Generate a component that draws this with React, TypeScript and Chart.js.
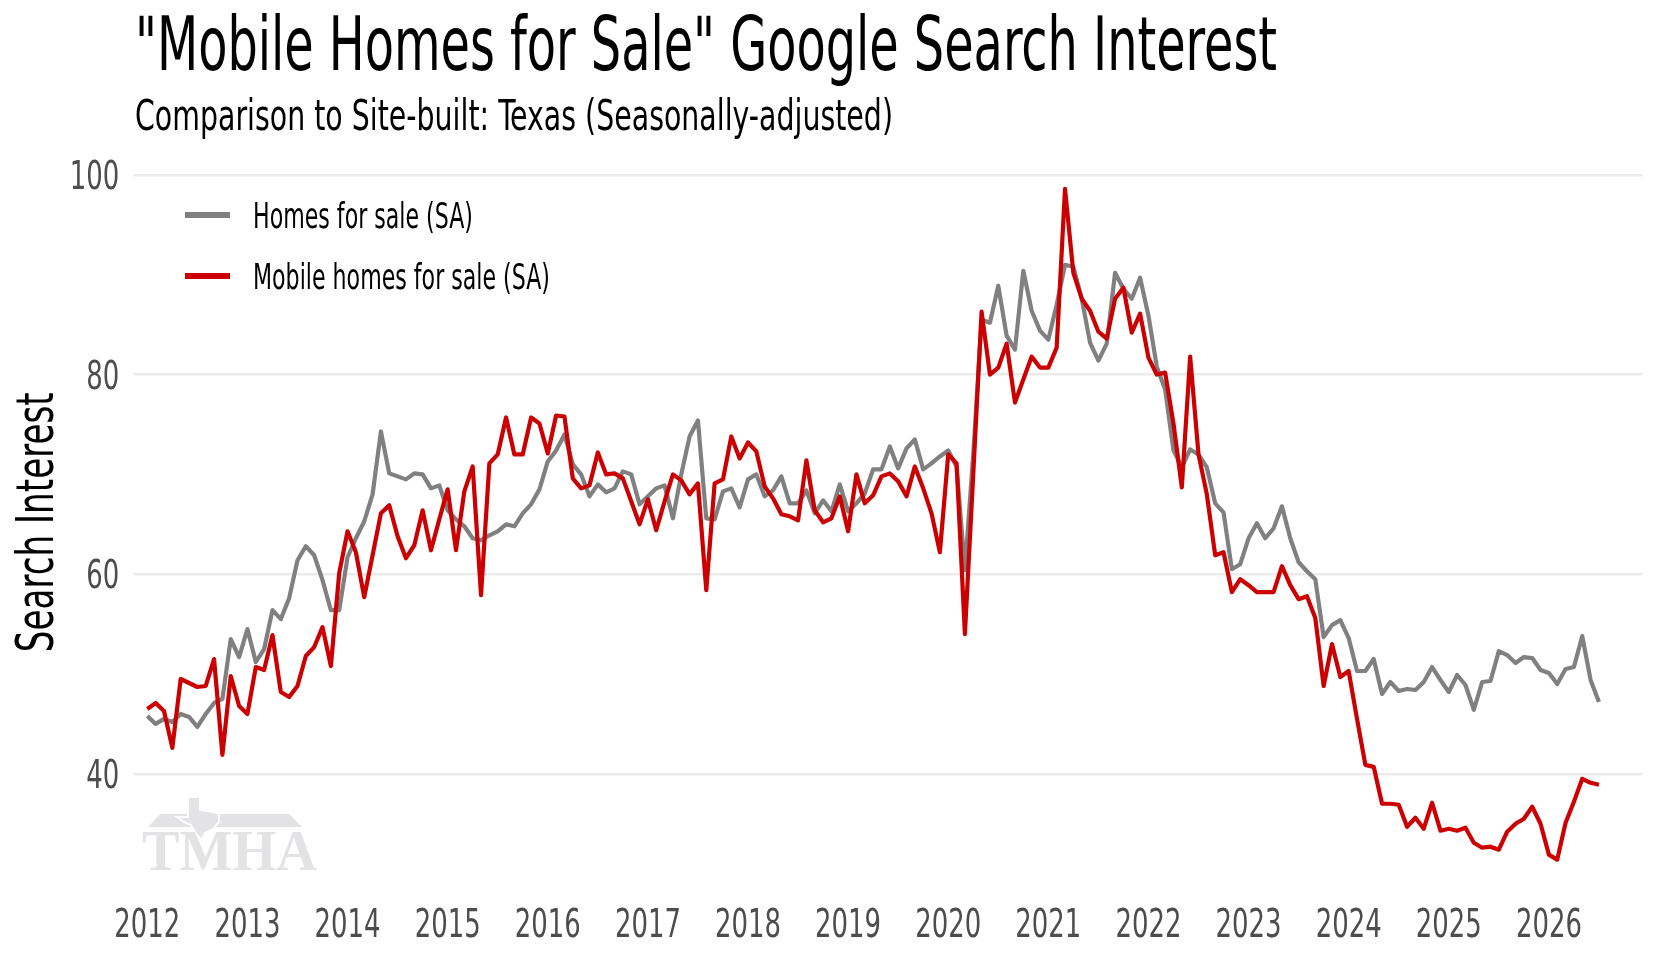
import React, { useEffect, useRef } from 'react';
import { Chart, registerables } from 'chart.js';

Chart.register(...registerables);

// ---------- data ----------
const START_YEAR = 2012; // first monthly observation: January 2012

const homesForSale = [
  45.8, 45.0, 45.5, 45.2, 46.0, 45.7, 44.7, 46.0, 47.1, 47.5, 53.5, 51.7,
  54.5, 51.2, 52.5, 56.4, 55.5, 57.6, 61.4, 62.8, 61.9, 59.4, 56.4, 56.4,
  61.7, 63.6, 65.3, 68.0, 74.3, 70.1, 69.8, 69.5, 70.1, 70.0, 68.6, 68.9,
  66.4, 65.5, 64.8, 63.6, 63.4, 63.9, 64.3, 65.0, 64.8, 66.1, 67.0, 68.5,
  71.3, 72.4, 74.0, 71.0, 70.0, 67.8, 69.0, 68.2, 68.6, 70.3, 70.0, 67.0,
  67.8, 68.6, 68.9, 65.6, 70.0, 73.8, 75.4, 65.6, 65.5, 68.3, 68.6, 66.7,
  69.5, 70.0, 67.8, 68.4, 69.8, 67.1, 67.1, 68.4, 66.1, 67.4, 66.3, 69.0,
  66.3, 67.1, 68.1, 70.5, 70.5, 72.8, 70.6, 72.6, 73.5, 70.5, 71.1, 71.8,
  72.4, 70.8, 60.4, 72.0, 85.5, 85.2, 88.9, 83.9, 82.5, 90.4, 86.4, 84.4,
  83.5, 87.0, 91.0, 90.8, 87.6, 83.2, 81.4, 83.1, 90.2, 88.6, 87.6, 89.7,
  85.9, 80.8, 78.5, 72.4, 70.7, 72.5, 72.0, 70.7, 67.1, 66.2, 60.5, 61.0,
  63.6, 65.1, 63.6, 64.6, 66.8, 63.6, 61.2, 60.3, 59.5, 53.7, 54.9, 55.4,
  53.6, 50.3, 50.3, 51.5, 48.0, 49.2, 48.3, 48.5, 48.4, 49.2, 50.7, 49.4,
  48.2, 49.9, 48.9, 46.4, 49.2, 49.3, 52.3, 51.9, 51.1, 51.7, 51.6, 50.4,
  50.1, 49.0, 50.5, 50.7, 53.8, 49.4, 47.2,
];

const mobileHomesForSale = [
  46.5, 47.1, 46.3, 42.6, 49.5, 49.1, 48.7, 48.8, 51.5, 41.9, 49.8, 46.8,
  46.0, 50.7, 50.4, 53.9, 48.2, 47.7, 48.8, 51.8, 52.7, 54.7, 50.8, 60.1,
  64.3, 62.2, 57.7, 61.9, 66.1, 66.9, 63.8, 61.6, 62.9, 66.4, 62.4, 65.5,
  68.5, 62.4, 68.3, 70.8, 57.9, 71.1, 72.0, 75.7, 72.0, 72.0, 75.7, 75.1,
  72.1, 75.9, 75.8, 69.6, 68.6, 68.9, 72.2, 70.0, 70.1, 69.6, 67.3, 65.0,
  67.5, 64.4, 67.3, 70.0, 69.4, 68.0, 69.1, 58.4, 69.1, 69.5, 73.8, 71.6,
  73.2, 72.3, 68.8, 67.6, 66.0, 65.8, 65.4, 71.4, 66.4, 65.2, 65.6, 67.8,
  64.3, 70.0, 67.1, 67.9, 69.8, 70.1, 69.3, 67.8, 70.8, 68.6, 66.1, 62.2,
  72.0, 71.1, 54.0, 70.0, 86.3, 80.0, 80.7, 83.1, 77.2, 79.5, 81.8, 80.7,
  80.7, 82.7, 98.6, 90.2, 87.6, 86.4, 84.3, 83.6, 87.6, 88.7, 84.2, 86.1,
  81.7, 80.0, 80.2, 75.1, 68.7, 81.8, 72.0, 68.0, 61.9, 62.2, 58.2, 59.5,
  58.9, 58.2, 58.2, 58.2, 60.8, 58.9, 57.5, 57.8, 55.6, 48.8, 53.0, 49.7,
  50.3, 45.5, 40.9, 40.7, 37.0, 37.0, 36.9, 34.7, 35.6, 34.5, 37.1, 34.3,
  34.5, 34.3, 34.6, 33.1, 32.6, 32.7, 32.4, 34.2, 35.0, 35.5, 36.7, 35.0,
  31.9, 31.4, 35.1, 37.2, 39.5, 39.1, 38.9,
];

const seriesLabels = ['Homes for sale (SA)', 'Mobile homes for sale (SA)'];
const yearTicks = [2012, 2013, 2014, 2015, 2016, 2017, 2018, 2019, 2020, 2021, 2022, 2023, 2024, 2025, 2026];
const valueTicks = [40, 60, 80, 100];

const TITLE = '"Mobile Homes for Sale" Google Search Interest';
const SUBTITLE = 'Comparison to Site-built: Texas (Seasonally-adjusted)';
const Y_TITLE = 'Search Interest';
const WATERMARK = 'TMHA';

// ---------- styles / layout ----------
const FONT = "'Liberation Sans Narrow', 'DejaVu Sans Condensed', 'Roboto', sans-serif";
const GRAY = '#808080';
const RED = '#cc0000';
const TICK_COLOR = '#4d4d4d';
const GRID_COLOR = '#ebebeb';
const LEGEND_TEXT_WIDTHS = [220, 297];

const toPoints = (vals: number[]) => vals.map((v, i) => ({ x: START_YEAR + i / 12, y: v }));

function drawWatermark(ctx: CanvasRenderingContext2D) {
  ctx.save();
  const c = '#e3e3e6';
  ctx.fillStyle = c;
  // roof
  ctx.beginPath();
  ctx.moveTo(148, 827);
  ctx.lineTo(160, 814);
  ctx.lineTo(289, 814);
  ctx.lineTo(302, 827);
  ctx.closePath();
  ctx.fill();
  // Texas silhouette
  ctx.beginPath();
  ctx.moveTo(188, 797);
  ctx.lineTo(200, 797);
  ctx.lineTo(200, 810);
  ctx.lineTo(213, 812);
  ctx.lineTo(219, 814);
  ctx.lineTo(219, 822);
  ctx.lineTo(213, 829);
  ctx.lineTo(205, 833);
  ctx.lineTo(202, 840);
  ctx.lineTo(196, 834);
  ctx.lineTo(191, 825);
  ctx.lineTo(184, 822);
  ctx.lineTo(177, 817);
  ctx.lineTo(188, 817);
  ctx.closePath();
  ctx.fill();
  ctx.strokeStyle = '#ffffff';
  ctx.lineWidth = 2;
  ctx.stroke();
  ctx.fillStyle = c;
  ctx.font = "bold 58px 'Liberation Serif', 'DejaVu Serif', serif";
  ctx.textAlign = 'left';
  ctx.textBaseline = 'alphabetic';
  ctx.fillText(WATERMARK, 142, 870, 175);
  ctx.restore();
}

const decorPlugin = {
  id: 'decor',
  beforeDatasetsDraw(chart: any) {
    drawWatermark(chart.ctx);
  },
  afterDraw(chart: any) {
    const ctx: CanvasRenderingContext2D = chart.ctx;
    const area = chart.chartArea;
    ctx.save();
    ctx.textBaseline = 'alphabetic';

    // titles
    ctx.fillStyle = '#000000';
    ctx.textAlign = 'left';
    ctx.font = `74px ${FONT}`;
    ctx.fillText(TITLE, 135, 70, 1142);
    ctx.font = `42px ${FONT}`;
    ctx.fillText(SUBTITLE, 135, 130, 758);

    // y axis title
    ctx.save();
    ctx.translate(53, (area.top + area.bottom) / 2);
    ctx.rotate(-Math.PI / 2);
    ctx.textAlign = 'center';
    ctx.font = `51px ${FONT}`;
    ctx.fillText(Y_TITLE, 0, 0, 260);
    ctx.restore();

    // tick labels
    ctx.fillStyle = TICK_COLOR;
    ctx.font = `39.5px ${FONT}`;
    const ys = chart.scales.y;
    ctx.textAlign = 'right';
    valueTicks.forEach((v) => {
      const s = String(v);
      ctx.fillText(s, area.left - 14, ys.getPixelForValue(v) + 14, s.length * 16.5);
    });
    const xs = chart.scales.x;
    ctx.textAlign = 'center';
    yearTicks.forEach((yr) => {
      const s = String(yr);
      ctx.fillText(s, xs.getPixelForValue(yr), 937, s.length * 16.5);
    });

    // legend
    chart.data.datasets.forEach((ds: any, i: number) => {
      const y = 215 + i * 61;
      ctx.strokeStyle = ds.borderColor;
      ctx.lineWidth = 6;
      ctx.lineCap = 'butt';
      ctx.beginPath();
      ctx.moveTo(185, y);
      ctx.lineTo(230, y);
      ctx.stroke();
      ctx.fillStyle = '#000000';
      ctx.textAlign = 'left';
      ctx.font = `35px ${FONT}`;
      ctx.fillText(ds.label, 253, y + 12.5, LEGEND_TEXT_WIDTHS[i]);
    });
    ctx.restore();
  },
};

export default function App() {
  const ref = useRef<HTMLCanvasElement | null>(null);

  useEffect(() => {
    if (!ref.current) return;
    const chart = new Chart(ref.current, {
      type: 'line',
      data: {
        datasets: [
          {
            label: seriesLabels[0],
            data: toPoints(homesForSale),
            borderColor: GRAY,
            backgroundColor: GRAY,
            borderWidth: 4.2,
            pointRadius: 0,
            tension: 0,
            borderJoinStyle: 'round',
            order: 1,
          },
          {
            label: seriesLabels[1],
            data: toPoints(mobileHomesForSale),
            borderColor: RED,
            backgroundColor: RED,
            borderWidth: 4.2,
            pointRadius: 0,
            tension: 0,
            borderJoinStyle: 'round',
            order: 0,
          },
        ],
      },
      options: {
        responsive: false,
        animation: false,
        devicePixelRatio: 1,
        layout: { padding: { left: 0, top: 155, right: 17, bottom: 0 } },
        plugins: {
          legend: { display: false },
          title: { display: false },
          tooltip: { enabled: false },
        },
        scales: {
          x: {
            type: 'linear',
            min: 2011.86,
            max: 2026.94,
            grid: { display: false },
            border: { display: false },
            ticks: { display: false },
            afterBuildTicks: (scale: any) => {
              scale.ticks = yearTicks.map((v) => ({ value: v }));
            },
            afterFit: (scale: any) => {
              scale.height = 70.4;
            },
          },
          y: {
            type: 'linear',
            min: 28.4,
            max: 102,
            grid: { color: GRID_COLOR, lineWidth: 2.5, drawTicks: false },
            border: { display: false },
            ticks: { display: false },
            afterBuildTicks: (scale: any) => {
              scale.ticks = valueTicks.map((v) => ({ value: v }));
            },
            afterFit: (scale: any) => {
              scale.width = 133.3;
            },
          },
        },
      } as any,
      plugins: [decorPlugin],
    });
    return () => chart.destroy();
  }, []);

  return (
    <div style={{ position: 'absolute', left: 0, top: 0, width: 1660, height: 960, background: '#ffffff' }}>
      <canvas ref={ref} width={1660} height={960} style={{ width: 1660, height: 960, display: 'block' }} />
    </div>
  );
}
